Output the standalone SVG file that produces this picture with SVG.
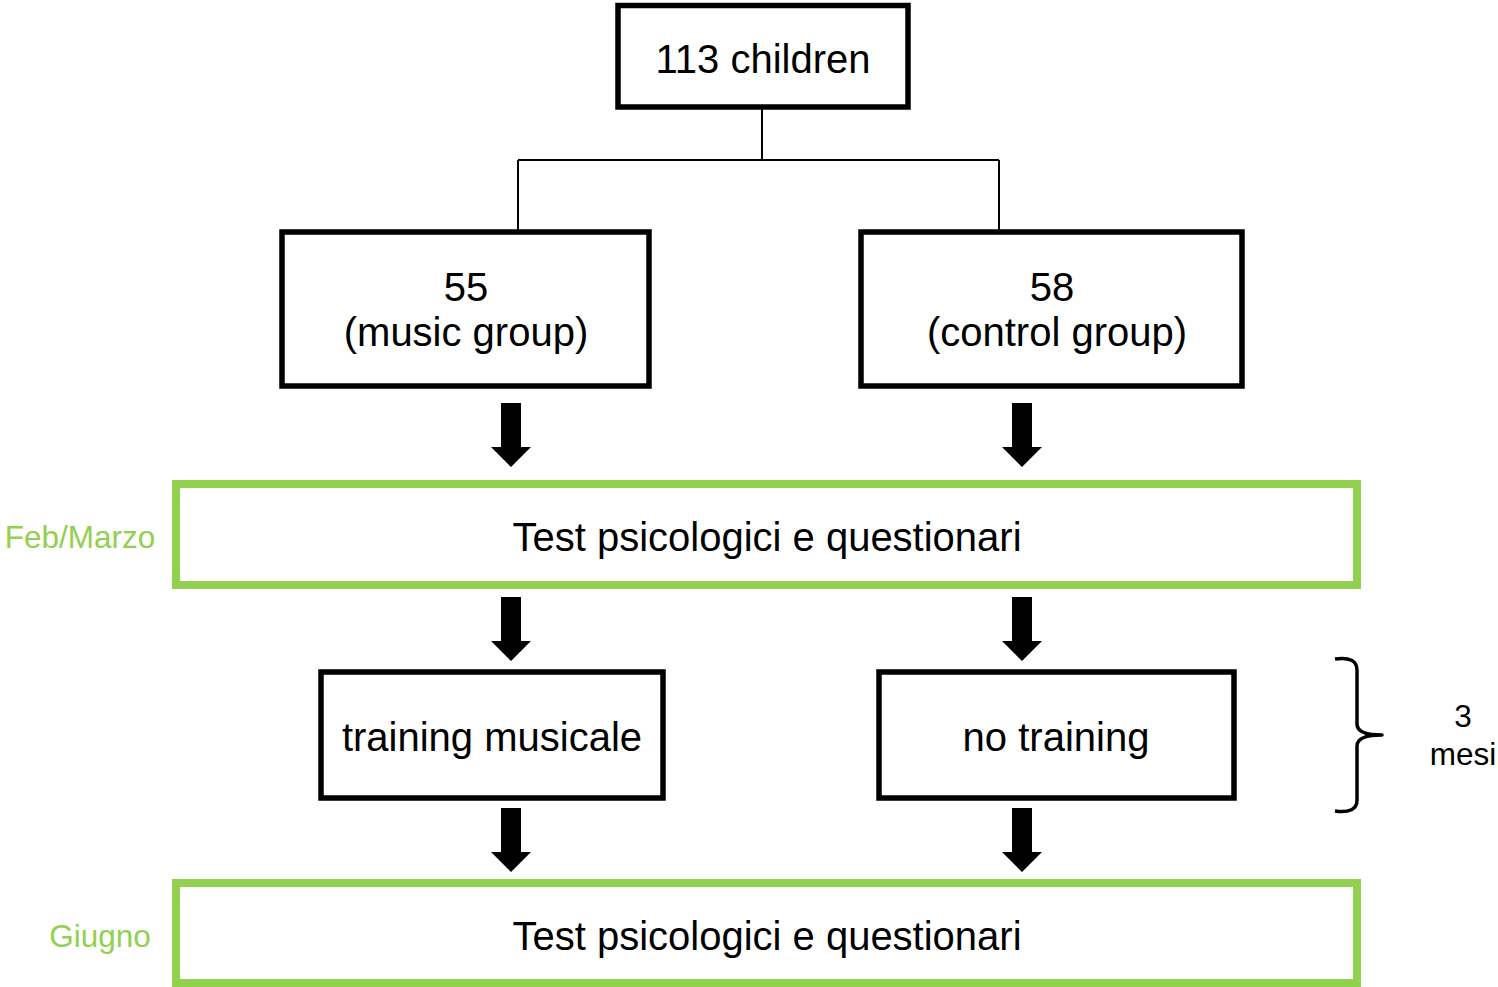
<svg xmlns="http://www.w3.org/2000/svg" width="1498" height="987" viewBox="0 0 1498 987">
  <style>
    .box { fill: #ffffff; stroke: #000000; stroke-width: 5.5; }
    .phase { fill: #ffffff; stroke: #92d050; stroke-width: 8; }
    .t { font-family: "Liberation Sans", Arial, sans-serif; font-size: 40px; fill: #000000; text-anchor: middle; }
    .side { font-family: "Liberation Sans", Arial, sans-serif; font-size: 31.5px; fill: #92d050; text-anchor: middle; }
    .note { font-family: "Liberation Sans", Arial, sans-serif; font-size: 31.5px; fill: #000000; text-anchor: middle; }
    .link { fill: none; stroke: #000000; stroke-width: 2; }
    .brace { fill: none; stroke: #000000; stroke-width: 3.5; stroke-linejoin: round; }
  </style>
  <defs>
    <!-- thick block arrow pointing down, origin at top centre -->
    <polygon id="blockArrow" points="-10,0 10,0 10,44 20,44 0,64 -20,44 -10,44" fill="#000000"/>
  </defs>
  <rect width="1498" height="987" fill="#ffffff"/>

  <!-- connectors -->
  <g id="connectors">
    <path class="link" d="M762,107 V160 M518,160 H999 M518,160 V232 M999,160 V232"/>
    <use href="#blockArrow" x="511" y="403"/>
    <use href="#blockArrow" x="1022" y="403"/>
    <use href="#blockArrow" x="511" y="597"/>
    <use href="#blockArrow" x="1022" y="597"/>
    <use href="#blockArrow" x="511" y="808"/>
    <use href="#blockArrow" x="1022" y="808"/>
  </g>

  <g id="root">
    <rect class="box" x="618" y="5.5" width="290" height="101.5"/>
    <text class="t" x="763" y="73">113 children</text>
  </g>

  <g id="music-group">
    <rect class="box" x="282" y="232" width="367" height="154"/>
    <text class="t" x="466" y="301">55</text>
    <text class="t" x="466" y="346">(music group)</text>
  </g>

  <g id="control-group">
    <rect class="box" x="861" y="232" width="381" height="154"/>
    <text class="t" x="1052" y="301">58</text>
    <text class="t" x="1057" y="346">(control group)</text>
  </g>

  <g id="pre-test">
    <rect class="phase" x="176" y="484" width="1181" height="101"/>
    <text class="t" x="767" y="551">Test psicologici e questionari</text>
  </g>
  <text class="side" x="80" y="548">Feb/Marzo</text>

  <g id="training-musicale">
    <rect class="box" x="321" y="672" width="342" height="126"/>
    <text class="t" x="492" y="751">training musicale</text>
  </g>

  <g id="no-training">
    <rect class="box" x="879" y="672" width="355" height="126"/>
    <text class="t" x="1056" y="751">no training</text>
  </g>

  <g id="post-test">
    <rect class="phase" x="176" y="883" width="1181" height="100"/>
    <text class="t" x="767" y="950">Test psicologici e questionari</text>
  </g>
  <text class="side" x="100" y="947">Giugno</text>

  <g id="duration">
    <path class="brace" d="M1335,659 Q1357,656 1357,670 V724 Q1357,735 1382,735 Q1357,735 1357,746 V800 Q1357,814 1335,811"/>
    <text class="note" x="1463" y="727">3</text>
    <text class="note" x="1463" y="765">mesi</text>
  </g>
</svg>
